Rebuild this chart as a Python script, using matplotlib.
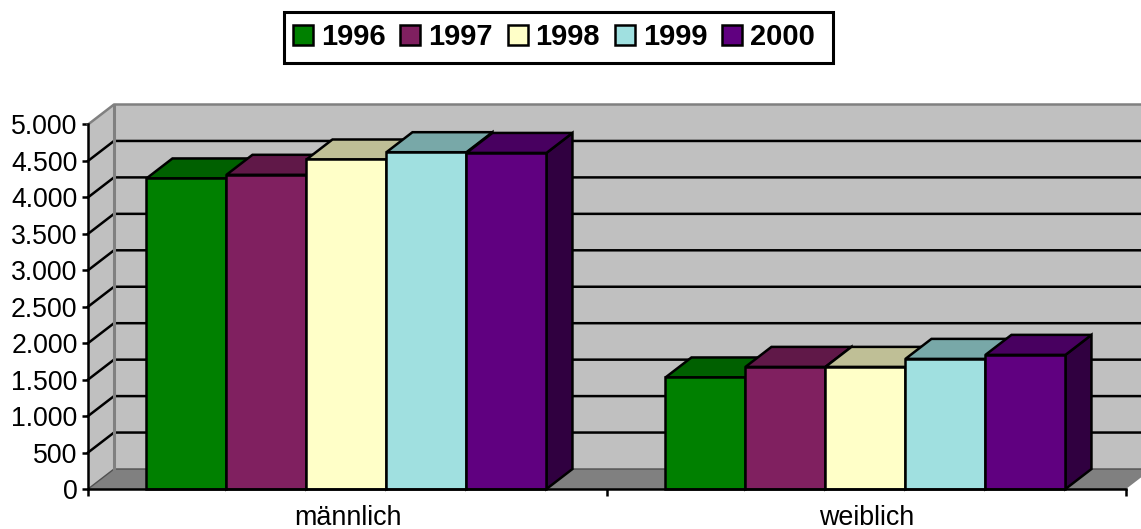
import matplotlib
matplotlib.use("Agg")
import matplotlib.pyplot as plt
from matplotlib.patches import Polygon, Patch, Rectangle

plt.rcParams['font.family'] = ['Liberation Sans', 'DejaVu Sans']

categories = ["männlich", "weiblich"]
years = ["1996", "1997", "1998", "1999", "2000"]
v1996 = [4260, 1530]
v1997 = [4310, 1675]
v1998 = [4520, 1675]
v1999 = [4620, 1785]
v2000 = [4610, 1840]
series = [v1996, v1997, v1998, v1999, v2000]
colors = ["#008000", "#802060", "#FFFFC8", "#A0E0E0", "#600080"]
y_ticks = [0, 500, 1000, 1500, 2000, 2500, 3000, 3500, 4000, 4500, 5000]
y_labels = ["0", "500", "1.000", "1.500", "2.000", "2.500", "3.000", "3.500", "4.000", "4.500", "5.000"]

W, H = 1141, 529
fig = plt.figure(figsize=(W / 100, H / 100), dpi=100)
L, R, B, T = 88, 1126, 489, 124.5
ax = fig.add_axes([L / W, 1 - B / H, (R - L) / W, (B - T) / H])
ax.set_xlim(-0.5, 1.5)
ax.set_ylim(0, 5000)

DX = 26 / ((R - L) / 2)
DY = 20 / (B - T) * 5000
BW = 80 / ((R - L) / 2)
LW = 1.8
GREY = "#808080"
WALL = "#C0C0C0"


def shade(c, f):
    r, g, b = matplotlib.colors.to_rgb(c)
    return (r * f, g * f, b * f)


def poly(pts, fc, ec="none", lw=0, z=1):
    ax.add_patch(Polygon(pts, closed=True, facecolor=fc, edgecolor=ec, linewidth=lw,
                         clip_on=False, zorder=z, joinstyle="miter"))


x0, x1 = -0.5, 1.5
poly([(x0 + DX, DY), (x1 + DX, DY), (x1 + DX, 5000 + DY), (x0 + DX, 5000 + DY)], WALL)
poly([(x0, 0), (x0 + DX, DY), (x0 + DX, 5000 + DY), (x0, 5000)], WALL)
poly([(x0, 0), (x1, 0), (x1 + DX, DY), (x0 + DX, DY)], GREY)

for t in y_ticks[1:-1]:
    ax.plot([x0, x0 + DX, x1 + DX], [t, t + DY, t + DY], color="black", lw=LW,
            clip_on=False, zorder=2, solid_joinstyle="miter")
ax.plot([x0, x0 + DX, x1 + DX], [5000, 5000 + DY, 5000 + DY], color=GREY, lw=LW, clip_on=False, zorder=2)
ax.plot([x0, x0 + DX, x1 + DX], [0, DY, DY], color="#505050", lw=1.0, clip_on=False, zorder=2)
ax.plot([x0 + DX, x0 + DX], [DY, 5000 + DY], color=GREY, lw=2.2, clip_on=False, zorder=2)

z = 3
for i in range(len(categories)):
    for j, s in enumerate(series):
        a = i - 2.5 * BW + j * BW - 0.002
        b = a + BW
        h = s[i]
        poly([(b, 0), (b + DX, DY), (b + DX, h + DY), (b, h)], shade(colors[j], 0.5), "black", LW, z)
        poly([(a, h), (b, h), (b + DX, h + DY), (a + DX, h + DY)], shade(colors[j], 0.75), "black", LW, z)
        poly([(a, 0), (b, 0), (b, h), (a, h)], colors[j], "black", LW, z)
        z += 1

for sp in ("top", "right"):
    ax.spines[sp].set_visible(False)
for sp in ("left", "bottom"):
    ax.spines[sp].set_linewidth(LW)
    ax.spines[sp].set_zorder(50)
ax.patch.set_visible(False)

ax.set_yticks(y_ticks)
ax.set_yticklabels(y_labels, fontsize=19.2)
ax.tick_params(axis="y", length=4, width=LW, pad=3.5)
ax.set_xticks([-0.5, 0.5, 1.5])
ax.set_xticklabels([])
ax.set_xticks([0, 1], minor=True)
ax.set_xticklabels(categories, minor=True, fontsize=19.4)
ax.tick_params(axis="x", which="major", length=5, width=LW)
ax.tick_params(axis="x", which="minor", length=0, pad=11.5)

fig.add_artist(Rectangle((283.5 / W, 1 - 63 / H), 549 / W, 51 / H, transform=fig.transFigure,
                         facecolor="white", edgecolor="black", linewidth=2.2))
handles = [Patch(facecolor=c, edgecolor="black", linewidth=LW) for c in colors]
leg = fig.legend(handles, years, ncol=5, loc="center left", bbox_to_anchor=(293 / W, 1 - 37 / H),
                 frameon=False, prop={"size": 21, "weight": "bold"},
                 handlelength=0.685, handleheight=0.685, handletextpad=0.27,
                 columnspacing=0.51, borderpad=0, borderaxespad=0)

fig.savefig("out.png", dpi=100, facecolor="white")
